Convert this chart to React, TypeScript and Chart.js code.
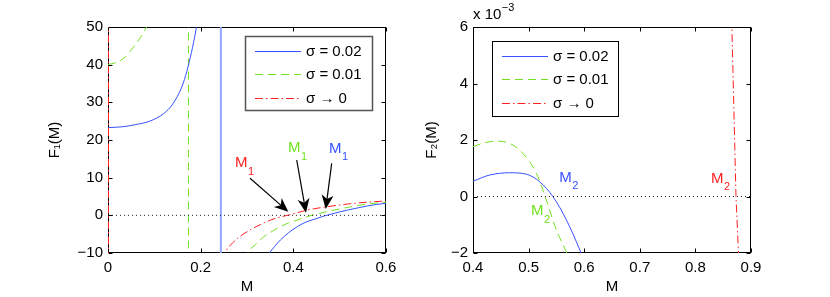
import React, { useEffect, useRef } from 'react';
import { Chart, registerables } from 'chart.js';
Chart.register(...registerables);

const FONT = "'Liberation Sans', Arial, Helvetica, sans-serif";
Chart.defaults.font.family = FONT;

// ---------- Left panel: F1(M) ----------
const zeroL_M = [0, 0.6];
const zeroL_F = [0, 0];
const blueA_M = [0, 0.03, 0.06, 0.09, 0.12, 0.14, 0.16, 0.17, 0.18, 0.19, 0.196];
const blueA_F = [23.3, 23.5, 24.1, 25.0, 27.0, 29.6, 34.3, 38.2, 43.2, 49.3, 54];
const blueAsym_M = [0.2436, 0.2436];
const blueAsym_F = [52, -12];
const blueB_M = [0.343, 0.347, 0.36, 0.3725, 0.39, 0.4086, 0.425, 0.4446, 0.466, 0.49, 0.517, 0.54, 0.56, 0.58, 0.6];
const blueB_F = [-12, -10.5, -8.2, -6.5, -4.6, -3.0, -1.9, -1.07, -0.2, 0.6, 1.4, 2.0, 2.5, 2.9, 3.2];
const greenA_M = [0, 0.02, 0.037, 0.055, 0.07, 0.084, 0.09];
const greenA_F = [40, 40.7, 42.0, 44.7, 47.2, 50.2, 51.8];
const greenAsym_M = [0.1737, 0.1737];
const greenAsym_F = [52, -12];
const greenB_M = [0.297, 0.30, 0.318, 0.336, 0.355, 0.3725, 0.39, 0.4086, 0.4337, 0.4735, 0.517, 0.56, 0.6];
const greenB_F = [-12, -10.5, -7.8, -5.7, -4.2, -3.0, -2.0, -1.25, -0.2, 1.0, 2.1, 3.0, 3.5];
const redAsym_M = [0, 0];
const redAsym_F = [52, -12];
const redB_M = [0.249, 0.253, 0.2645, 0.285, 0.3077, 0.33, 0.351, 0.37, 0.39, 0.41, 0.43, 0.4735, 0.517, 0.56, 0.6];
const redB_F = [-12, -10, -7.9, -5.6, -3.8, -2.4, -1.24, -0.5, 0.08, 0.75, 1.4, 2.3, 3.0, 3.5, 3.8];

// annotations (data coordinates) for left panel
const leftTagM = [0.2741, 0.3885, 0.477];
const leftTagF = [12.83, 16.8, 16.55];
const leftTagSub = ['1', '1', '1'];
const arrowTailM = [0.3065, 0.4073, 0.4828];
const arrowTailF = [9.83, 14.69, 13.81];
const arrowTipM = [0.3891, 0.4273, 0.4699];
const arrowTipF = [0.96, 0.7, 1.68];

// ---------- Right panel: F2(M) ----------
const zeroR_M = [0.4, 0.9];
const zeroR_F = [0, 0];
const blueR_M = [0.4, 0.43, 0.466, 0.496, 0.52, 0.544, 0.568, 0.592, 0.6];
const blueR_F = [0.54e-3, 0.76e-3, 0.84e-3, 0.79e-3, 0.52e-3, -0.01e-3, -0.83e-3, -1.89e-3, -2.3e-3];
const greenR_M = [0.4, 0.42, 0.442, 0.466, 0.49, 0.514, 0.532, 0.55, 0.5665, 0.575];
const greenR_F = [1.76e-3, 1.9e-3, 1.96e-3, 1.88e-3, 1.52e-3, 0.82e-3, -0.13e-3, -1.19e-3, -1.9e-3, -2.3e-3];
const redR_M = [0.8652, 0.8656, 0.873, 0.8775, 0.878];
const redR_F = [6.3e-3, 6e-3, 0, -2e-3, -2.2e-3];

const rightTagM = [0.5552, 0.5043, 0.828];
const rightTagF = [0.524e-3, -0.655e-3, 0.478e-3];
const rightTagSub = ['2', '2', '2'];

const legendLabels = ['σ = 0.02', 'σ = 0.01', 'σ → 0'];

// ---------- styles ----------
const BLUE = '#3452ff';
const BLUE_LIGHT = '#93a5ff';
const GREEN = '#72e01c';
const RED = '#ff2020';
const DASH = [8, 5];
const DASHDOT = [8, 3, 1.5, 3];
const tagColors = [RED, GREEN, BLUE];
const rightTagColors = [BLUE, GREEN, RED];
const legendStyles = [
  { color: BLUE, dash: [] as number[] },
  { color: GREEN, dash: DASH },
  { color: RED, dash: DASHDOT },
];

const pts = (xs: number[], ys: number[]) => xs.map((x, i) => ({ x, y: ys[i] }));

const line = (label: string, xs: number[], ys: number[], color: string, dash: number[], width = 1, smooth = true) => ({
  label,
  data: pts(xs, ys),
  borderColor: color,
  backgroundColor: color,
  borderWidth: width,
  borderDash: dash,
  pointRadius: 0,
  fill: false,
  tension: 0,
  cubicInterpolationMode: smooth ? 'monotone' : 'default',
});

const fmtMinus = (v: number) => (v < 0 ? '\u2212' + String(Math.abs(v)) : String(v));

function drawArrow(ctx: CanvasRenderingContext2D, x1: number, y1: number, x2: number, y2: number) {
  const a = Math.atan2(y2 - y1, x2 - x1);
  const c = Math.cos(a), s = Math.sin(a);
  const L = 14, W = 6, N = 4;
  ctx.beginPath();
  ctx.moveTo(x1, y1);
  ctx.lineTo(x2 - c * (L - N), y2 - s * (L - N));
  ctx.stroke();
  ctx.beginPath();
  ctx.moveTo(x2, y2);
  ctx.lineTo(x2 - L * c + W * s, y2 - L * s - W * c);
  ctx.lineTo(x2 - (L - N) * c, y2 - (L - N) * s);
  ctx.lineTo(x2 - L * c - W * s, y2 - L * s + W * c);
  ctx.closePath();
  ctx.fill();
}

function drawTag(ctx: CanvasRenderingContext2D, x: number, y: number, main: string, sub: string, color: string) {
  ctx.fillStyle = color;
  ctx.textAlign = 'left';
  ctx.textBaseline = 'alphabetic';
  ctx.font = `15px ${FONT}`;
  ctx.fillText(main, x, y);
  const w = ctx.measureText(main).width;
  ctx.font = `11px ${FONT}`;
  ctx.fillText(sub, x + w + 0.5, y + 7.5);
}

type Extra = {
  legend: { fromLeft?: number; fromRight?: number; top: number; width: number; height: number; border: string; borderWidth: number };
  tags: { M: number[]; F: number[]; sub: string[]; colors: string[] };
  arrows?: { tM: number[]; tF: number[]; hM: number[]; hF: number[] };
  exponent?: boolean;
};

function makePlugin(extra: Extra) {
  return {
    id: 'matlabFrame',
    beforeDatasetsDraw(chart: any) {
      const { ctx, chartArea: a, scales } = chart;
      ctx.save();
      ctx.strokeStyle = '#000';
      ctx.lineWidth = 1;
      const l = Math.round(a.left) + 0.5, t = Math.round(a.top) + 0.5;
      const r = Math.round(a.right) - 0.5, b = Math.round(a.bottom) - 0.5;
      ctx.strokeRect(l, t, r - l, b - t);
      ctx.beginPath();
      const T = 4;
      scales.x.ticks.forEach((tk: any) => {
        const px = Math.round(scales.x.getPixelForValue(tk.value)) + 0.5;
        ctx.moveTo(px, b); ctx.lineTo(px, b - T);
        ctx.moveTo(px, t); ctx.lineTo(px, t + T);
      });
      scales.y.ticks.forEach((tk: any) => {
        const py = Math.round(scales.y.getPixelForValue(tk.value)) + 0.5;
        ctx.moveTo(l, py); ctx.lineTo(l + T, py);
        ctx.moveTo(r, py); ctx.lineTo(r - T, py);
      });
      ctx.stroke();
      ctx.restore();
    },
    afterDraw(chart: any) {
      const { ctx, chartArea: a, scales } = chart;
      const xs = scales.x, ys = scales.y;
      ctx.save();
      // arrows
      if (extra.arrows) {
        ctx.strokeStyle = '#000';
        ctx.fillStyle = '#000';
        ctx.lineWidth = 1.2;
        ctx.setLineDash([]);
        const ar = extra.arrows;
        ar.tM.forEach((_, i) => {
          drawArrow(ctx, xs.getPixelForValue(ar.tM[i]), ys.getPixelForValue(ar.tF[i]),
            xs.getPixelForValue(ar.hM[i]), ys.getPixelForValue(ar.hF[i]));
        });
      }
      // tags
      const tg = extra.tags;
      tg.M.forEach((m, i) => {
        drawTag(ctx, xs.getPixelForValue(m), ys.getPixelForValue(tg.F[i]), 'M', tg.sub[i], tg.colors[i]);
      });
      // legend
      const lg = extra.legend;
      const bx = lg.fromRight !== undefined ? Math.round(a.right - lg.fromRight - lg.width) : Math.round(a.left + (lg.fromLeft || 0));
      const by = Math.round(a.top + lg.top);
      ctx.fillStyle = '#fff';
      ctx.fillRect(bx, by, lg.width, lg.height);
      ctx.strokeStyle = lg.border;
      ctx.lineWidth = lg.borderWidth;
      ctx.setLineDash([]);
      ctx.strokeRect(bx + 0.5, by + 0.5, lg.width, lg.height);
      legendLabels.forEach((txt, i) => {
        const yy = Math.round(by + 15 + 23.3 * i) + 0.5;
        ctx.strokeStyle = legendStyles[i].color;
        ctx.lineWidth = 1.2;
        ctx.setLineDash(legendStyles[i].dash);
        ctx.beginPath();
        ctx.moveTo(bx + 10, yy);
        ctx.lineTo(bx + 56, yy);
        ctx.stroke();
        ctx.setLineDash([]);
        ctx.fillStyle = '#000';
        ctx.font = `15px ${FONT}`;
        ctx.textAlign = 'left';
        ctx.textBaseline = 'middle';
        ctx.fillText(txt, bx + 61, yy);
      });
      // exponent
      if (extra.exponent) {
        ctx.fillStyle = '#000';
        ctx.textAlign = 'left';
        ctx.textBaseline = 'alphabetic';
        ctx.font = `15px ${FONT}`;
        const base = 'x 10';
        ctx.fillText(base, a.left, a.top - 8.5);
        const w = ctx.measureText(base).width;
        ctx.font = `11px ${FONT}`;
        ctx.fillText('\u22123', a.left + w + 0.5, a.top - 16.5);
      }
      ctx.restore();
    },
  };
}

const tickFont = { size: 15, family: FONT };

function baseOptions(
  xMin: number, xMax: number, xStep: number, xFmt: (v: number) => string,
  yMin: number, yMax: number, yStep: number, yFmt: (v: number) => string,
  yTitle: string, yWidth: number, yTitlePad: number, padRight: number,
) {
  return {
    responsive: false,
    maintainAspectRatio: false,
    animation: false,
    devicePixelRatio: 1,
    events: [],
    layout: { padding: { left: 0, top: 27, right: padRight, bottom: 0 } },
    plugins: { legend: { display: false }, tooltip: { enabled: false } },
    scales: {
      x: {
        type: 'linear',
        min: xMin,
        max: xMax,
        grid: { display: false, drawTicks: false },
        border: { display: false },
        ticks: { stepSize: xStep, padding: 6, color: '#000', font: tickFont, maxRotation: 0, callback: (v: any) => xFmt(Number(v)) },
        title: { display: true, text: 'M', color: '#000', font: tickFont, padding: { top: 0, bottom: 1 } },
        afterFit: (s: any) => { s.height = 44; },
      },
      y: {
        type: 'linear',
        min: yMin,
        max: yMax,
        grid: { display: false, drawTicks: false },
        border: { display: false },
        ticks: { stepSize: yStep, padding: 5, color: '#000', font: tickFont, callback: (v: any) => yFmt(Number(v)) },
        title: { display: true, text: yTitle, color: '#000', font: tickFont, padding: { top: yTitlePad, bottom: 0 } },
        afterFit: (s: any) => { s.width = yWidth; },
      },
    },
  };
}

export default function App() {
  const leftRef = useRef<HTMLCanvasElement>(null);
  const rightRef = useRef<HTMLCanvasElement>(null);

  useEffect(() => {
    const leftChart = new Chart(leftRef.current as HTMLCanvasElement, {
      type: 'line',
      data: {
        datasets: [
          line('zero', zeroL_M, zeroL_F, '#222', [1, 3], 1, false),
          line('σ = 0.02', blueA_M, blueA_F, BLUE, []),
          line('σ = 0.02 asymptote', blueAsym_M, blueAsym_F, BLUE_LIGHT, [], 2, false),
          line('σ = 0.02', blueB_M, blueB_F, BLUE, []),
          line('σ = 0.01', greenA_M, greenA_F, GREEN, DASH),
          line('σ = 0.01 asymptote', greenAsym_M, greenAsym_F, GREEN, DASH, 1, false),
          line('σ = 0.01', greenB_M, greenB_F, GREEN, DASH),
          line('σ → 0 asymptote', redAsym_M, redAsym_F, RED, DASHDOT, 2, false),
          line('σ → 0', redB_M, redB_F, RED, DASHDOT),
        ] as any,
      },
      options: baseOptions(
        0, 0.6, 0.2, (v) => String(Math.round(v * 10) / 10),
        -10, 50, 10, (v) => fmtMinus(Math.round(v)),
        'F\u2081(M)', 108, 46, 29,
      ) as any,
      plugins: [makePlugin({
        legend: { fromRight: 14, top: 9, width: 127, height: 74, border: '#555', borderWidth: 1.5 },
        tags: { M: leftTagM, F: leftTagF, sub: leftTagSub, colors: tagColors },
        arrows: { tM: arrowTailM, tF: arrowTailF, hM: arrowTipM, hF: arrowTipF },
      })] as any,
    });

    const rightChart = new Chart(rightRef.current as HTMLCanvasElement, {
      type: 'line',
      data: {
        datasets: [
          line('zero', zeroR_M, zeroR_F, '#222', [1, 3], 1, false),
          line('σ = 0.02', blueR_M, blueR_F, BLUE, []),
          line('σ = 0.01', greenR_M, greenR_F, GREEN, DASH),
          line('σ → 0', redR_M, redR_F, RED, DASHDOT, 1, false),
        ] as any,
      },
      options: baseOptions(
        0.4, 0.9, 0.1, (v) => String(Math.round(v * 10) / 10),
        -0.002, 0.006, 0.002, (v) => fmtMinus(Math.round(v * 1000)),
        'F\u2082(M)', 58, 8, 79,
      ) as any,
      plugins: [makePlugin({
        legend: { fromLeft: 19, top: 14, width: 126, height: 75, border: '#000', borderWidth: 1 },
        tags: { M: rightTagM, F: rightTagF, sub: rightTagSub, colors: rightTagColors },
        exponent: true,
      })] as any,
    });

    return () => {
      leftChart.destroy();
      rightChart.destroy();
    };
  }, []);

  return (
    <div style={{ position: 'absolute', left: 0, top: 0, width: 830, height: 297, background: '#fff' }}>
      <canvas ref={leftRef} width={415} height={297} style={{ position: 'absolute', left: 0, top: 0, width: 415, height: 297 }} />
      <canvas ref={rightRef} width={415} height={297} style={{ position: 'absolute', left: 415, top: 0, width: 415, height: 297 }} />
    </div>
  );
}
